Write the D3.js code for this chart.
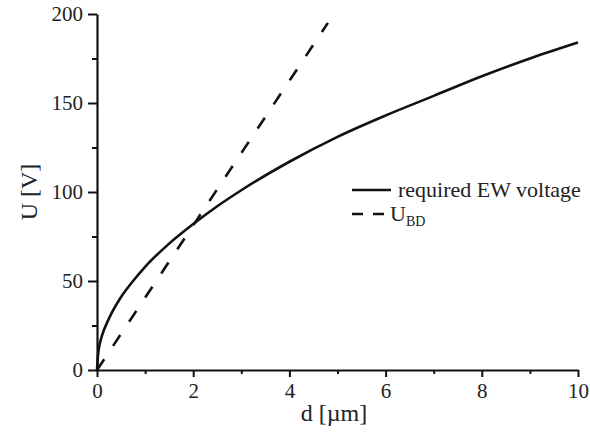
<!DOCTYPE html>
<html>
<head>
<meta charset="utf-8">
<script src="https://cdn.jsdelivr.net/npm/d3@7"></script>
<style>
  body { margin: 0; background: #fff; }
  text { font-family: "Liberation Serif", "Times New Roman", serif; fill: #222; }
</style>
</head>
<body>
<div id="chart"></div>
<script>
// data
var ewD = [0, 0.02, 0.06, 0.1, 0.25, 0.5, 0.75, 1, 1.5, 2, 2.5, 3, 4, 5, 6, 7, 8, 9, 10];
var ewU = [0, 8, 15, 19, 29, 41, 50, 58, 71, 82, 92, 101, 117, 131, 143, 154, 165, 175, 184];
var bdD = [0, 4.8];
var bdU = [0, 195];
var xTicks = [0, 2, 4, 6, 8, 10];
var yTicks = [0, 50, 100, 150, 200];
var legendLabels = ["required EW voltage", "U", "BD"];

var svgWidth = 590;
var svgHeight = 432;

var svg = d3.select("#chart")
    .append("svg")
    .attr("width", svgWidth)
    .attr("height", svgHeight);

var x = d3.scaleLinear().domain([0, 10]).range([97, 578]);
var y = d3.scaleLinear().domain([0, 200]).range([370, 14]);

// minor ticks
svg.append("g")
    .attr("transform", "translate(0,370)")
    .call(d3.axisBottom(x).tickValues([1, 3, 5, 7, 9]).tickSize(4).tickFormat("").tickSizeOuter(0))
    .call(g => g.select(".domain").remove());
svg.append("g")
    .attr("transform", "translate(97,0)")
    .call(d3.axisLeft(y).tickValues([25, 75, 125, 175]).tickSize(5).tickFormat("").tickSizeOuter(0))
    .call(g => g.select(".domain").remove());

var xAxis = svg.append("g")
    .attr("transform", "translate(0,370)")
    .call(d3.axisBottom(x).tickValues(xTicks).tickSize(7).tickPadding(6).tickSizeOuter(0));
var yAxis = svg.append("g")
    .attr("transform", "translate(97,0)")
    .call(d3.axisLeft(y).tickValues(yTicks).tickSize(9).tickPadding(5).tickSizeOuter(0));

svg.selectAll(".tick line").attr("stroke", "#111").attr("stroke-width", 2);
svg.selectAll(".domain").attr("stroke", "#111").attr("stroke-width", 2.2);
svg.selectAll(".tick text")
    .attr("font-family", "Liberation Serif, serif")
    .attr("font-size", 21)
    .attr("fill", "#333");

// axis titles
svg.append("text")
    .attr("x", 334)
    .attr("y", 421)
    .attr("text-anchor", "middle")
    .attr("font-size", 24)
    .text("d [µm]");
svg.append("text")
    .attr("transform", "rotate(-90)")
    .attr("x", -192)
    .attr("y", 37)
    .attr("text-anchor", "middle")
    .attr("font-size", 24)
    .text("U [V]");

var line = d3.line()
    .x(d => x(d[0]))
    .y(d => y(d[1]))
    .curve(d3.curveMonotoneX);

svg.append("path")
    .datum(ewD.map((d, i) => [d, ewU[i]]))
    .attr("d", line)
    .attr("fill", "none")
    .attr("stroke", "#111")
    .attr("stroke-width", 2.6);

svg.append("path")
    .datum(bdD.map((d, i) => [d, bdU[i]]))
    .attr("d", d3.line().x(d => x(d[0])).y(d => y(d[1])))
    .attr("fill", "none")
    .attr("stroke", "#111")
    .attr("stroke-width", 2.6)
    .attr("stroke-dasharray", "13,16");

// legend
var legend = svg.append("g");
legend.append("line")
    .attr("x1", 352).attr("x2", 391).attr("y1", 190).attr("y2", 190)
    .attr("stroke", "#111").attr("stroke-width", 2.6);
legend.append("text")
    .attr("x", 398).attr("y", 197)
    .attr("font-size", 22)
    .text(legendLabels[0]);
legend.append("line")
    .attr("x1", 352).attr("x2", 387).attr("y1", 214).attr("y2", 214)
    .attr("stroke", "#111").attr("stroke-width", 2.6)
    .attr("stroke-dasharray", "11,10");
var ubd = legend.append("text")
    .attr("x", 390).attr("y", 221)
    .attr("font-size", 22);
ubd.append("tspan").text(legendLabels[1]);
ubd.append("tspan").attr("font-size", 14).attr("dy", 5).text(legendLabels[2]);
</script>
</body>
</html>
